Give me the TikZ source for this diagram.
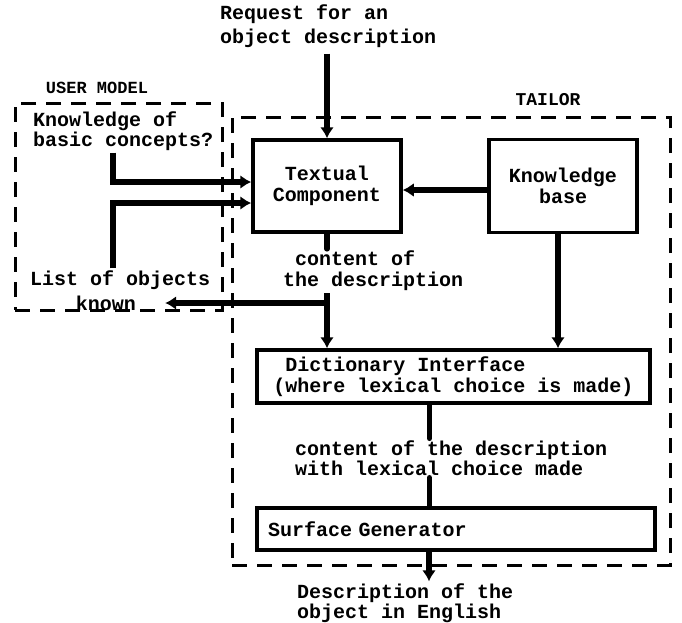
\documentclass[tikz,border=0pt]{standalone}
\usepackage{fontspec}
\setmainfont{Liberation Mono}
\usetikzlibrary{arrows.meta}
\begin{document}
\begin{tikzpicture}[x=1pt,y=-1pt,
  every node/.style={font=\fontsize{20}{21}\selectfont\bfseries, inner sep=2pt},
  txt/.style={align=left, anchor=west},
  blk/.style={draw, line width=3.5pt, align=center},
  conn/.style={line width=5.5pt, -{Latex[length=11pt,width=14pt]}},
  seg/.style={line width=5.5pt, line cap=round},
  grp/.style={draw, line width=3pt, dash pattern=on 15pt off 10pt}]
\useasboundingbox (0,0) rectangle (682,622);

% groups
\node[grp, minimum width=207pt, minimum height=207pt] (um) at (118.5,206.5) {};
\node[grp, minimum width=438pt, minimum height=448pt] (tailor) at (451,341) {};
\node[font=\fontsize{17}{17}\selectfont\bfseries] (umlab) at (97,88) {USER MODEL};
\node[font=\fontsize{18}{18}\selectfont\bfseries] (tlab) at (548,100) {TAILOR};

% blocks
\node[blk, minimum width=148pt, minimum height=92pt] (tc) at (327,186) {Textual\\Component};
\node[blk, minimum width=148pt, minimum height=93pt] (kb) at (563,186) {Knowledge\\base};
\node[blk, minimum width=393pt, minimum height=53pt, align=left] (dict) at (453.5,376.5)
  {~Dictionary Interface\\(where lexical choice is made)};
\node[blk, minimum width=398pt, minimum height=42pt, text width=376pt, align=left] (sg) at (456,529)
  {Surface Generator};

% texts
\node[txt, font=\fontsize{20}{24}\selectfont\bfseries] (req) at (218,26) {Request for an\\object description};
\node[txt, font=\fontsize{20}{18}\selectfont\bfseries] (kc) at (31,131) {Knowledge of\\basic concepts?};
\node[anchor=west] (lo) at (28,280) {List of objects};
\node (known) at (106,303) {known};
\node[txt] (cod) at (281,271) {~content of\\the description};
\node[txt, font=\fontsize{20}{20}\selectfont\bfseries] (cwl) at (293,458) {content of the description\\with lexical choice made};
\node[txt, font=\fontsize{20}{20}\selectfont\bfseries] (desc) at (295,603) {Description of the\\object in English};

% connectors
\draw[conn, shorten <=4pt] (req.south -| tc.north) -- (tc.north);
\draw[conn] ([yshift=-4pt]kb.west) -- ([yshift=-4pt]tc.east);
\draw[conn] ([xshift=82pt]kc.south west) |- ([yshift=4pt]tc.west);
\draw[conn] ([xshift=85pt]lo.north west) |- ([yshift=-17pt]tc.west);
\draw[seg] (tc.south) -- (tc.south |- cod.north);
\draw[conn] (tc.south |- cod.south) -- (tc.south |- dict.north);
\draw[conn, shorten >=27pt] (tc.south |- cod.south) |- (known.east);
\draw[conn] ([xshift=-5pt]kb.south) -- ([xshift=-5pt]kb.south |- dict.north);
\draw[seg] ([xshift=-24pt]dict.south) -- ([xshift=-24pt]dict.south |- cwl.north);
\draw[seg] ([xshift=-24pt]dict.south |- cwl.south) -- ([xshift=-24pt]dict.south |- sg.north);
\draw[conn] ([xshift=-27pt]sg.south) -- ([xshift=-27pt]sg.south |- desc.north);
\end{tikzpicture}
\end{document}
